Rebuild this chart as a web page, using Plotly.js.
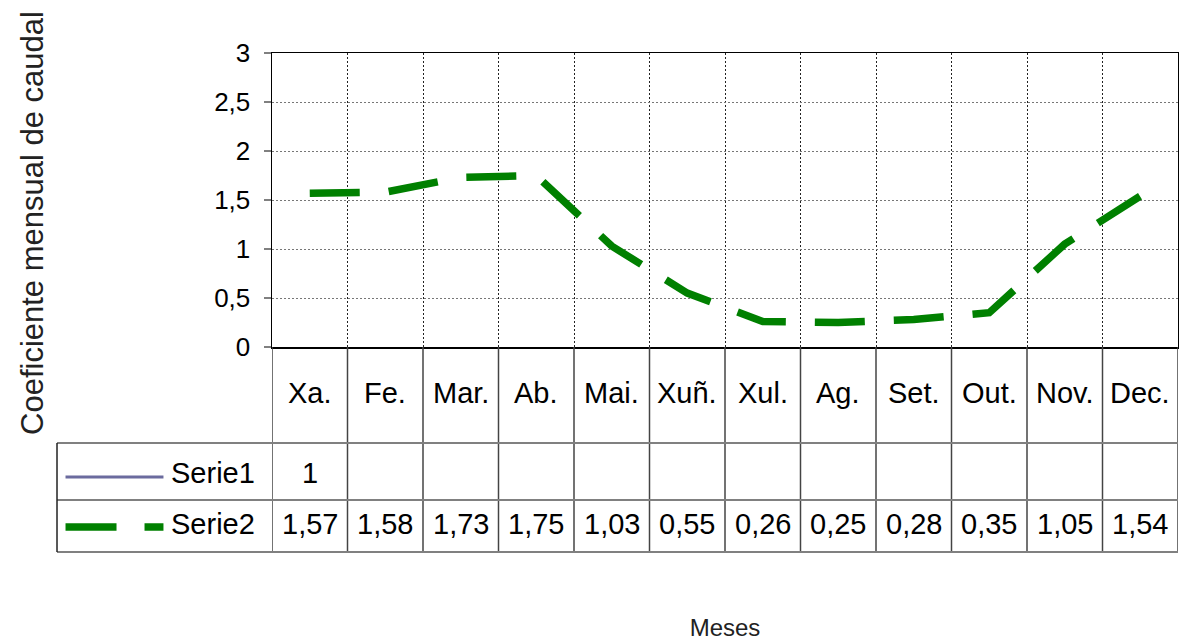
<!DOCTYPE html>
<html>
<head>
<meta charset="utf-8">
<script src="https://cdn.plot.ly/plotly-3.0.1.min.js"></script>
<style>html,body{margin:0;padding:0;background:#fff;}#chart{width:1179px;height:641px;}</style>
</head>
<body>
<div id="chart"></div>
<script>
var months = ["Xa.", "Fe.", "Mar.", "Ab.", "Mai.", "Xuñ.", "Xul.", "Ag.", "Set.", "Out.", "Nov.", "Dec."];
var serie1 = [1, null, null, null, null, null, null, null, null, null, null, null];
var serie2 = [1.57, 1.58, 1.73, 1.75, 1.03, 0.55, 0.26, 0.25, 0.28, 0.35, 1.05, 1.54];
var seriesNames = ["Serie1", "Serie2"];
var yTickVals = [0, 0.5, 1, 1.5, 2, 2.5, 3];
var yTickText = ["0", "0,5", "1", "1,5", "2", "2,5", "3"];
var yTitle = "Coeficiente mensual de caudal";
var xTitle = "Meses";

function fmt(v) { return v === null ? "" : String(v).replace(".", ","); }

var FONT = "Liberation Sans, Arial, sans-serif";
var tableFont = {family: FONT, size: 29, color: "#000"};

// table geometry in paper coords (plot area: y 53..347 px, height 294)
var yHeader = -0.1565, ySer1 = -0.4276, ySer2 = -0.602;
var rowLines = [-0.3265, -0.5204, -0.6973];
var tableLeft = -0.2373;

var annotations = [];
months.forEach(function (m, i) {
  annotations.push({x: m, xref: "x", y: yHeader, yref: "paper", text: m, showarrow: false, font: tableFont, xanchor: "center", yanchor: "middle"});
  annotations.push({x: m, xref: "x", y: ySer1, yref: "paper", text: fmt(serie1[i]), showarrow: false, font: tableFont, xanchor: "center", yanchor: "middle"});
  annotations.push({x: m, xref: "x", y: ySer2, yref: "paper", text: fmt(serie2[i]), showarrow: false, font: tableFont, xanchor: "center", yanchor: "middle"});
});
annotations.push({x: -0.1142, xref: "paper", y: ySer1, yref: "paper", text: seriesNames[0], showarrow: false, font: tableFont, xanchor: "left", yanchor: "middle"});
annotations.push({x: -0.1142, xref: "paper", y: ySer2, yref: "paper", text: seriesNames[1], showarrow: false, font: tableFont, xanchor: "left", yanchor: "middle"});
annotations.push({x: -0.2638, xref: "paper", y: 0.4218, yref: "paper", text: yTitle, textangle: -90, showarrow: false, font: {family: FONT, size: 31, color: "#222"}, xanchor: "center", yanchor: "middle"});

var shapes = [];
// vertical table lines at column boundaries
for (var k = 0; k <= months.length; k++) {
  shapes.push({type: "line", xref: "x", yref: "paper", x0: k - 0.5, x1: k - 0.5, y0: 0, y1: rowLines[2], line: {color: "#444", width: 1.5}});
}
rowLines.forEach(function (y) {
  shapes.push({type: "line", xref: "paper", yref: "paper", x0: tableLeft, x1: 1, y0: y, y1: y, line: {color: "#808080", width: 2}});
});
shapes.push({type: "line", xref: "paper", yref: "paper", x0: tableLeft, x1: tableLeft, y0: rowLines[0], y1: rowLines[2], line: {color: "#222", width: 1.5}});
// legend keys
shapes.push({type: "line", xref: "paper", yref: "paper", x0: -0.2279, x1: -0.1198, y0: -0.4422, y1: -0.4422, line: {color: "#6b6b9e", width: 3}});
shapes.push({type: "line", xref: "paper", yref: "paper", x0: -0.2279, x1: -0.1198, y0: -0.6122, y1: -0.6122, line: {color: "#008000", width: 7.5, dash: "51px,28px"}});

var traces = [
  {x: months, y: serie1, name: seriesNames[0], type: "scatter", mode: "lines", line: {color: "#6b6b9e", width: 3}},
  {x: months, y: serie2, name: seriesNames[1], type: "scatter", mode: "lines", line: {color: "#008000", width: 7.5, dash: "50px,29px"}}
];

var layout = {
  width: 1179, height: 641,
  margin: {l: 272, r: 1, t: 53, b: 294},
  paper_bgcolor: "#fff", plot_bgcolor: "#fff",
  showlegend: false,
  font: {family: FONT, color: "#000"},
  xaxis: {
    type: "category", categoryorder: "array", categoryarray: months,
    range: [-0.5, 11.5], tickson: "boundaries",
    showgrid: true, gridcolor: "#222", gridwidth: 1, griddash: "2px,2px",
    showticklabels: false, ticks: "",
    showline: true, mirror: true, linecolor: "#000", linewidth: 1.5,
    zeroline: false,
    title: {text: xTitle, font: {family: FONT, size: 24, color: "#222"}, standoff: 272}
  },
  yaxis: {
    range: [0, 3], tickvals: yTickVals, ticktext: yTickText,
    showgrid: true, gridcolor: "#777", gridwidth: 1, griddash: "2px,2px",
    ticks: "outside", ticklen: 7, tickcolor: "#808080", tickwidth: 1.5,
    ticklabelstandoff: 8,
    tickfont: {family: FONT, size: 26, color: "#000"},
    showline: true, mirror: true, linecolor: "#000", linewidth: 1.5,
    zeroline: false
  },
  shapes: shapes,
  annotations: annotations
};

Plotly.newPlot("chart", traces, layout, {displayModeBar: false, staticPlot: true});
</script>
</body>
</html>
